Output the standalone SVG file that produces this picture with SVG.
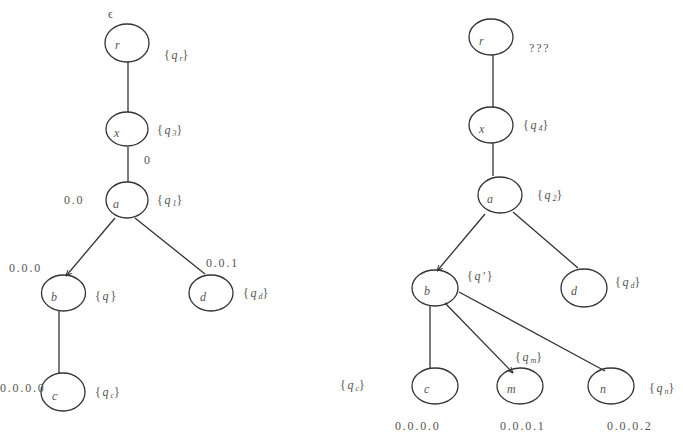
<svg xmlns="http://www.w3.org/2000/svg" width="683" height="441" viewBox="0 0 683 441">
<style>
.n{fill:none;stroke:#333;stroke-width:1.3}
.e{stroke:#333;stroke-width:1.3;fill:none}
.t{font-family:"Liberation Serif","DejaVu Serif",serif;font-size:12px;fill:#555;letter-spacing:1.8px}
.i{font-style:italic}
.s{font-size:8px;font-style:italic;letter-spacing:0}
</style>
<defs>
<marker id="ah" viewBox="0 0 10 10" refX="9" refY="5" markerWidth="5" markerHeight="5" orient="auto">
<path d="M0,1 L9,5 L0,9" fill="none" stroke="#333" stroke-width="1.5"/>
</marker>
</defs>
<rect width="683" height="441" fill="#fff"/>
<g id="connectors">
<line class="e" x1="128" y1="62" x2="128" y2="112"/>
<line class="e" x1="128" y1="147" x2="128" y2="182"/>
<line class="e" x1="115" y1="218" x2="66" y2="276" marker-end="url(#ah)"/>
<line class="e" x1="135" y1="218" x2="205" y2="274"/>
<line class="e" x1="59" y1="311" x2="59" y2="373"/>
<line class="e" x1="493" y1="55" x2="493" y2="107"/>
<line class="e" x1="493" y1="143" x2="493" y2="176"/>
<line class="e" x1="485" y1="214" x2="437" y2="271" marker-end="url(#ah)"/>
<line class="e" x1="513" y1="212" x2="578" y2="268"/>
<line class="e" x1="430" y1="305" x2="430" y2="368"/>
<line class="e" x1="445" y1="303" x2="513" y2="373" marker-end="url(#ah)"/>
<line class="e" x1="459" y1="292" x2="605" y2="371"/>
</g>
<g id="L_r"><ellipse class="n" cx="127" cy="43" rx="22" ry="19"/><text class="t i" x="115" y="49">r</text></g>
<g id="L_x"><ellipse class="n" cx="127" cy="129" rx="21" ry="17"/><text class="t i" x="114" y="137">x</text></g>
<g id="L_a"><ellipse class="n" cx="127" cy="200" rx="21" ry="18"/><text class="t i" x="113" y="208">a</text></g>
<g id="L_b"><ellipse class="n" cx="63.5" cy="293" rx="22" ry="18"/><text class="t i" x="51" y="301">b</text></g>
<g id="L_d"><ellipse class="n" cx="211" cy="293" rx="22" ry="18"/><text class="t i" x="200" y="301">d</text></g>
<g id="L_c"><ellipse class="n" cx="63" cy="392" rx="22" ry="19"/><text class="t i" x="52" y="400">c</text></g>
<g id="R_r"><ellipse class="n" cx="491" cy="37" rx="22" ry="18"/><text class="t i" x="479" y="45">r</text></g>
<g id="R_x"><ellipse class="n" cx="491" cy="125" rx="22" ry="18"/><text class="t i" x="479" y="133">x</text></g>
<g id="R_a"><ellipse class="n" cx="500" cy="195" rx="22" ry="18"/><text class="t i" x="487" y="203">a</text></g>
<g id="R_b"><ellipse class="n" cx="435" cy="288" rx="23" ry="18"/><text class="t i" x="424" y="295">b</text></g>
<g id="R_d"><ellipse class="n" cx="584" cy="288" rx="23" ry="19"/><text class="t i" x="571" y="295">d</text></g>
<g id="R_c"><ellipse class="n" cx="435" cy="386" rx="23" ry="18"/><text class="t i" x="424" y="393">c</text></g>
<g id="R_m"><ellipse class="n" cx="520" cy="386" rx="23" ry="18"/><text class="t i" x="507" y="393">m</text></g>
<g id="R_n"><ellipse class="n" cx="611" cy="386" rx="23" ry="18"/><text class="t i" x="600" y="393">n</text></g>
<g id="labels">
<text class="t" x="108" y="18">ϵ</text>
<text class="t" x="164" y="59">{<tspan class="i">q</tspan><tspan class="s" dy="2">r</tspan><tspan dy="-2">}</tspan></text>
<text class="t" x="157" y="134">{<tspan class="i">q</tspan><tspan class="s" dy="2">3</tspan><tspan dy="-2">}</tspan></text>
<text class="t" x="144" y="164">0</text>
<text class="t" x="64" y="204">0.0</text>
<text class="t" x="157" y="204">{<tspan class="i">q</tspan><tspan class="s" dy="2">1</tspan><tspan dy="-2">}</tspan></text>
<text class="t" x="9" y="272">0.0.0</text>
<text class="t" x="206" y="267">0.0.1</text>
<text class="t" x="95" y="300">{<tspan class="i">q</tspan>}</text>
<text class="t" x="243" y="297">{<tspan class="i">q</tspan><tspan class="s" dy="2">d</tspan><tspan dy="-2">}</tspan></text>
<text class="t" x="0" y="392">0.0.0.0</text>
<text class="t" x="95" y="396">{<tspan class="i">q</tspan><tspan class="s" dy="2">c</tspan><tspan dy="-2">}</tspan></text>
<text class="t" x="529" y="52">???</text>
<text class="t" x="523" y="129">{<tspan class="i">q</tspan><tspan class="s" dy="2">4</tspan><tspan dy="-2">}</tspan></text>
<text class="t" x="537" y="199">{<tspan class="i">q</tspan><tspan class="s" dy="2">2</tspan><tspan dy="-2">}</tspan></text>
<text class="t" x="467" y="280">{<tspan class="i">q′</tspan>}</text>
<text class="t" x="615" y="286">{<tspan class="i">q</tspan><tspan class="s" dy="2">d</tspan><tspan dy="-2">}</tspan></text>
<text class="t" x="340" y="389">{<tspan class="i">q</tspan><tspan class="s" dy="2">c</tspan><tspan dy="-2">}</tspan></text>
<text class="t" x="515" y="361">{<tspan class="i">q</tspan><tspan class="s" dy="2">m</tspan><tspan dy="-2">}</tspan></text>
<text class="t" x="649" y="392">{<tspan class="i">q</tspan><tspan class="s" dy="2">n</tspan><tspan dy="-2">}</tspan></text>
<text class="t" x="395" y="430">0.0.0.0</text>
<text class="t" x="500" y="430">0.0.0.1</text>
<text class="t" x="607" y="430">0.0.0.2</text>
</g>
</svg>
